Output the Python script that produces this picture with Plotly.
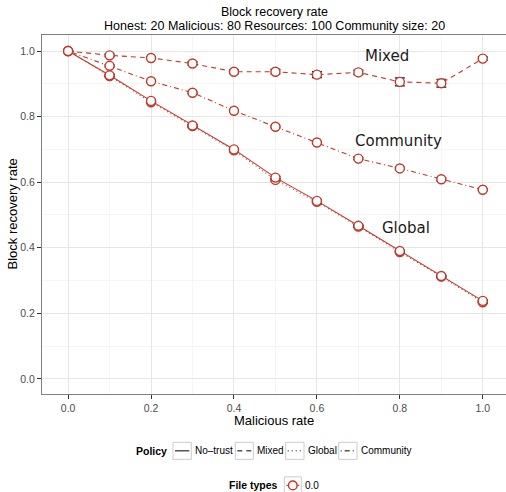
import plotly.graph_objects as go

# Malicious rate on the x axis
malicious_rate = [0.0, 0.1, 0.2, 0.3, 0.4, 0.5, 0.6, 0.7, 0.8, 0.9, 1.0]

# Block recovery rate per policy
no_trust = [1.000, 0.926, 0.848, 0.773, 0.700, 0.614, 0.543, 0.467, 0.390, 0.314, 0.238]
global_rep = [1.000, 0.924, 0.844, 0.771, 0.697, 0.607, 0.540, 0.465, 0.387, 0.312, 0.234]
mixed = [1.000, 0.987, 0.979, 0.962, 0.937, 0.937, 0.928, 0.935, 0.906, 0.902, 0.977]
community = [1.000, 0.955, 0.908, 0.873, 0.818, 0.769, 0.721, 0.672, 0.642, 0.609, 0.577]

# Standard errors
no_trust_err = [0.0, 0.003, 0.003, 0.003, 0.004, 0.004, 0.003, 0.003, 0.003, 0.003, 0.003]
global_err = [0.0, 0.003, 0.003, 0.003, 0.004, 0.004, 0.003, 0.003, 0.003, 0.003, 0.003]
mixed_err = [0.0, 0.004, 0.004, 0.005, 0.006, 0.007, 0.009, 0.007, 0.012, 0.012, 0.005]
community_err = [0.0, 0.003, 0.003, 0.003, 0.003, 0.003, 0.003, 0.003, 0.003, 0.004, 0.003]

policy_names = ["No\u2013trust", "Mixed", "Global", "Community"]
x_ticks = [0.0, 0.2, 0.4, 0.6, 0.8, 1.0]
y_ticks = [0.0, 0.2, 0.4, 0.6, 0.8, 1.0]

RED = "#C0392B"
FONT = "Liberation Sans, Arial, sans-serif"
W, H = 506, 492
ML, MR, MT, MB = 42, 0, 35, 98.3
PW, PH = W - ML - MR, H - MT - MB

dashes = {
    "No\u2013trust": "solid",
    "Mixed": "5px,4px",
    "Global": "1px,3px",
    "Community": "1px,3px,5px,3px",
}
series = [
    ("Global", global_rep, global_err),
    ("No\u2013trust", no_trust, no_trust_err),
    ("Community", community, community_err),
    ("Mixed", mixed, mixed_err),
]

fig = go.Figure()
for name, ys, errs in series:
    fig.add_trace(go.Scatter(
        x=malicious_rate, y=ys, name=name, mode="lines+markers",
        line=dict(color=RED, width=1.1, dash=dashes[name]),
        marker=dict(symbol="circle", size=9, color="white",
                    line=dict(color=RED, width=1.4)),
        error_y=dict(type="data", array=errs, color="#1a1a1a",
                     thickness=1.2, width=5),
        showlegend=False,
    ))


def px_x(p):
    return (p - ML) / PW


def px_y(p):
    return (H - MB - p) / PH


def paper_text(text, x, y, size=13, xanchor="center", bold=False, **kw):
    return dict(text=f"<b>{text}</b>" if bold else text,
                xref="paper", yref="paper", x=x, y=y,
                xanchor=xanchor, yanchor="middle", showarrow=False,
                font=dict(family=FONT, size=size, color="black"), **kw)


annotations = [
    paper_text("Block recovery rate", 0.5, px_y(11.8), size=12.5),
    paper_text("Honest: 20 Malicious: 80 Resources: 100 Community size: 20",
               0.5, px_y(26.3), size=12.5),
    # Axis titles
    paper_text("Malicious rate", 0.5, px_y(420)),
    paper_text("Block recovery rate", px_x(12), 0.5, textangle=-90),
]

# Direct labels inside the panel
for txt, lx, ly in [("Mixed", 0.769, 0.984), ("Community", 0.796, 0.727),
                    ("Global", 0.815, 0.46)]:
    annotations.append(dict(text=txt, x=lx, y=ly, xref="x", yref="y",
                            showarrow=False,
                            font=dict(family="DejaVu Sans", size=15,
                                      color="#1a1a1a")))

shapes = []

# Policy legend
leg_y = 450.5
annotations.append(paper_text("Policy", px_x(168.5), px_y(leg_y), size=10.5,
                              xanchor="right", bold=True))
key_boxes = [(173.0, 191.3), (235.3, 253.3), (285.7, 304.0), (338.7, 357.0)]
for (x0, x1), name in zip(key_boxes, policy_names):
    shapes.append(dict(type="rect", xref="paper", yref="paper",
                       x0=px_x(x0), x1=px_x(x1), y0=px_y(leg_y - 8.5),
                       y1=px_y(leg_y + 8.5),
                       line=dict(color="#cccccc", width=1), fillcolor="white"))
    shapes.append(dict(type="line", xref="paper", yref="paper",
                       x0=px_x(x0 + 2), x1=px_x(x1 - 2), y0=px_y(leg_y),
                       y1=px_y(leg_y),
                       line=dict(color="black", width=1, dash=dashes[name])))
    annotations.append(paper_text(name, px_x(x1 + 1.5), px_y(leg_y), size=10,
                                  xanchor="left"))

# File types legend
ft_y = 485.0
annotations.append(paper_text("File types", px_x(279.5), px_y(ft_y), size=10.5,
                              xanchor="right", bold=True))
shapes.append(dict(type="rect", xref="paper", yref="paper",
                   x0=px_x(284.3), x1=px_x(301.3), y0=px_y(ft_y - 8.5),
                   y1=px_y(ft_y + 8.5),
                   line=dict(color="#cccccc", width=1), fillcolor="white"))
shapes.append(dict(type="line", xref="paper", yref="paper",
                   x0=px_x(286.3), x1=px_x(299.3), y0=px_y(ft_y), y1=px_y(ft_y),
                   line=dict(color=RED, width=1.1)))
shapes.append(dict(type="circle", xref="paper", yref="paper",
                   x0=px_x(292.8 - 4.3), x1=px_x(292.8 + 4.3),
                   y0=px_y(ft_y - 4.3), y1=px_y(ft_y + 4.3),
                   line=dict(color=RED, width=1.4), fillcolor="white"))
annotations.append(paper_text("0.0", px_x(303.0), px_y(ft_y), size=10,
                              xanchor="left"))

axis_common = dict(
    showline=True, linecolor="#7f7f7f", linewidth=1,
    ticks="outside", ticklen=4, tickcolor="#333333", tickwidth=1,
    showgrid=True, gridcolor="#e6e6e6", gridwidth=1,
    zeroline=False, tickformat=".1f",
    tickfont=dict(family=FONT, size=10.5, color="#4d4d4d"),
    minor=dict(dtick=0.1, showgrid=True, gridcolor="#f5f5f5", gridwidth=0.8),
)

fig.update_layout(
    width=W, height=H,
    margin=dict(l=ML, r=MR, t=MT, b=MB, pad=0),
    paper_bgcolor="white", plot_bgcolor="white",
    showlegend=False,
    xaxis=dict(axis_common, range=[-0.063, 1.056], tickvals=x_ticks,
               mirror=True),
    yaxis=dict(axis_common, range=[-0.046, 1.049], tickvals=y_ticks),
    annotations=annotations,
    shapes=shapes,
    font=dict(family=FONT),
)

fig.write_html("out.html")
